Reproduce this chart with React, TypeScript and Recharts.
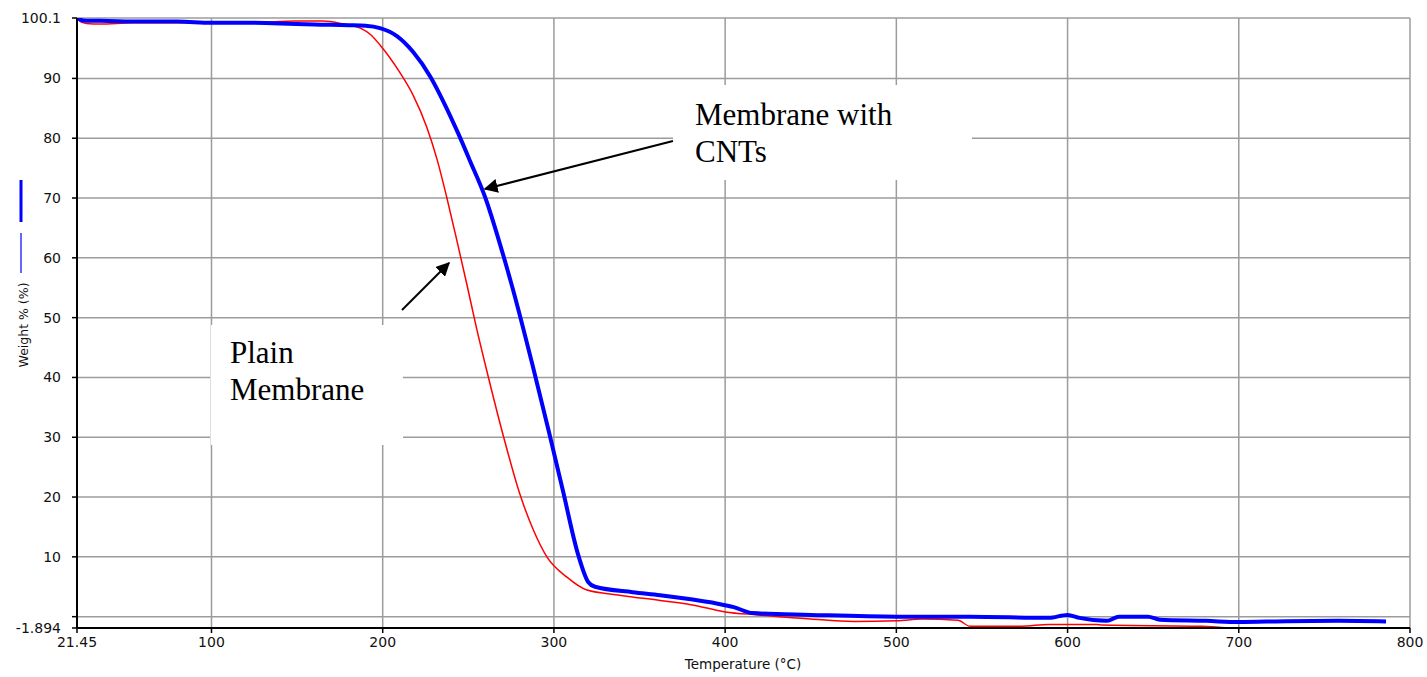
import { LineChart, Line, XAxis, YAxis, CartesianGrid } from "recharts"

// Membrane with CNTs (blue, thick)
const cntTemp = [
  21.45, 25, 40, 60, 80, 100, 120, 140, 160, 180, 190, 198.4, 208.1, 217.8, 228, 236, 244.1,
  251, 260, 269, 276, 288, 297, 305.3, 314, 320, 324, 346, 362, 380, 395, 405, 416, 450, 500,
  543, 589, 600, 607, 623, 630, 647, 654, 681, 700, 728, 758, 786,
]
const cntWeight = [
  100.1, 99.7, 99.6, 99.5, 99.5, 99.3, 99.3, 99.2, 99.0, 98.9, 98.8, 98.4, 97.1, 94.4, 90.2,
  85.8, 80.8, 76.2, 70.0, 61.8, 54.8, 41.5, 31.0, 21.0, 10.5, 5.8, 5.0, 4.1, 3.6, 2.9, 2.2,
  1.6, 0.6, 0.3, 0.0, 0.0, -0.2, 0.3, -0.2, -0.7, 0.0, 0.0, -0.5, -0.7, -0.9, -0.75, -0.7,
  -0.8,
]

// Plain membrane (red, thin)
const plainTemp = [
  21.45, 24, 27, 35, 54, 93, 132, 148, 165, 177, 187, 193, 198.4, 210, 217.6, 225.8, 231.7,
  237.5, 243.4, 249.2, 255, 260.9, 270.2, 280.1, 288, 295.9, 307.6, 319.3, 338.5, 362, 380,
  400, 419, 450, 475, 500, 515, 536, 543, 573, 589, 617, 620, 678, 697, 785,
]
const plainWeight = [
  100.1, 99.4, 99.2, 99.1, 99.3, 99.3, 99.4, 99.6, 99.6, 99.1, 98.4, 97.3, 95.6, 91.0, 87.3,
  81.8, 76.5, 70.0, 62.8, 55.5, 48.0, 41.0, 30.5, 20.5, 14.5, 10.0, 6.6, 4.45, 3.6, 2.7, 2.0,
  0.8, 0.3, -0.4, -0.8, -0.7, -0.4, -0.6, -1.6, -1.6, -1.3, -1.3, -1.4, -1.6, -1.89, -1.89,
]

const xTicks = [21.45, 100, 200, 300, 400, 500, 600, 700, 800]
const yTicks = [-1.894, 0, 10, 20, 30, 40, 50, 60, 70, 80, 90, 100.1]

const cntData = cntTemp.map((t, i) => ({ t, w: cntWeight[i] }))
const plainData = plainTemp.map((t, i) => ({ t, w: plainWeight[i] }))

const sans = "DejaVu Sans, Verdana, sans-serif"
const tickFont = { fontSize: 14, fill: "#111", fontFamily: sans }
const noteFont = "Liberation Serif, Times New Roman, serif"

export default function App() {
  return (
    <div style={{ position: "absolute", left: 0, top: 0, width: 1427, height: 677, background: "#fff" }}>
      <LineChart width={1427} height={677} margin={{ top: 18, right: 17, left: 0, bottom: 0 }}>
        <CartesianGrid stroke="#9c9c9c" strokeWidth={1.5} />
        <XAxis
          type="number"
          dataKey="t"
          domain={[21.45, 800]}
          ticks={xTicks}
          interval={0}
          allowDataOverflow
          height={49}
          tickSize={5}
          tickMargin={4}
          axisLine={{ stroke: "#000", strokeWidth: 2 }}
          tickLine={{ stroke: "#000", strokeWidth: 1.5 }}
          tick={tickFont}
          tickFormatter={(v) => String(v)}
        />
        <YAxis
          type="number"
          dataKey="w"
          domain={[-1.894, 100.1]}
          ticks={yTicks}
          interval={0}
          allowDataOverflow
          width={77}
          tickSize={5}
          tickMargin={11}
          axisLine={{ stroke: "#000", strokeWidth: 2 }}
          tickLine={{ stroke: "#000", strokeWidth: 1.5 }}
          tick={tickFont}
          tickFormatter={(v) => (v === 0 ? "" : String(v))}
        />
        <Line
          data={plainData}
          dataKey="w"
          type="monotone"
          stroke="#ff0000"
          strokeWidth={1.5}
          dot={false}
          isAnimationActive={false}
        />
        <Line
          data={cntData}
          dataKey="w"
          type="monotone"
          stroke="#0000ff"
          strokeWidth={4}
          dot={false}
          isAnimationActive={false}
        />
      </LineChart>

      <svg width={1427} height={677} style={{ position: "absolute", left: 0, top: 0, pointerEvents: "none" }}>
        <defs>
          <marker id="arrow" viewBox="0 0 10 10" refX="9" refY="5" markerWidth="7" markerHeight="7" orient="auto-start-reverse">
            <path d="M0,0 L10,5 L0,10 z" fill="#000" />
          </marker>
        </defs>

        {/* legend marks beside the y title */}
        <rect x={19.5} y={180} width={3} height={42} fill="#0000ff" />
        <line x1={21} y1={233} x2={21} y2={273} stroke="#3333ff" strokeWidth={1.5} />

        <text transform="translate(28, 325) rotate(-90)" textAnchor="middle" fontSize={12.5} fontFamily={sans} fill="#111">
          Weight % (%)
        </text>
        <text x={743} y={669} textAnchor="middle" fontSize={13.5} fontFamily={sans} fill="#111">
          Temperature (°C)
        </text>

        {/* annotation: membrane with CNTs */}
        <rect x={673} y={85} width={299} height={95} fill="#fff" />
        <text fontFamily={noteFont} fontSize={31} fill="#000">
          <tspan x={695} y={125}>Membrane with</tspan>
          <tspan x={695} y={162}>CNTs</tspan>
        </text>
        <line x1={673} y1={141} x2={485} y2={189} stroke="#000" strokeWidth={2} markerEnd="url(#arrow)" />

        {/* annotation: plain membrane */}
        <rect x={210} y={325} width={193} height={120} fill="#fff" />
        <line x1={210.5} y1={325} x2={210.5} y2={445} stroke="#ddd" strokeWidth={1} />
        <text fontFamily={noteFont} fontSize={31} fill="#000">
          <tspan x={230} y={363}>Plain</tspan>
          <tspan x={230} y={400}>Membrane</tspan>
        </text>
        <line x1={402} y1={310} x2={449} y2={263} stroke="#000" strokeWidth={2} markerEnd="url(#arrow)" />
      </svg>
    </div>
  )
}
